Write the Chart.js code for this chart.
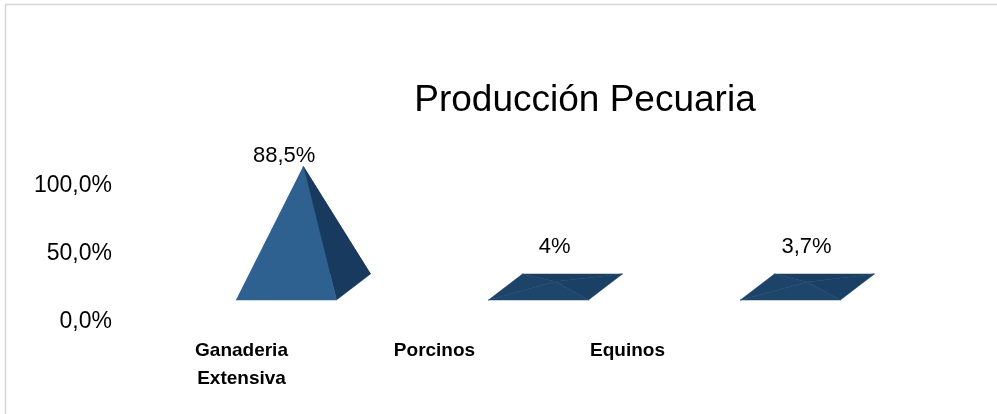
<!DOCTYPE html>
<html>
<head>
<meta charset="utf-8">
<script src="https://cdn.jsdelivr.net/npm/chart.js@4.4.1/dist/chart.umd.min.js"></script>
<style>
  html, body { margin: 0; padding: 0; background: #fff; }
  #wrap { position: relative; width: 997px; height: 414px; }
</style>
</head>
<body>
<div id="wrap"><canvas id="pecuaria-chart" width="997" height="414"></canvas></div>
<script>
// Producción pecuaria (% del total)
const categories = [['Ganaderia', 'Extensiva'], 'Porcinos', 'Equinos'];
const shares = [88.5, 4, 3.7];
const shareLabels = ['88,5%', '4%', '3,7%'];
const yTicks = [0, 50, 100];
const chartTitle = 'Producción Pecuaria';

const fontFamily = '"Liberation Sans", Arial, Helvetica, sans-serif';

// 3D look: the floor is lifted and slanted back to the right
const floorLift = 33;
const depthX = 17;
const depthY = 13;

const steepColors = { front: '#2e6190', right: '#173a5e', left: '#24507a', back: '#13304f' };
const flatColor = '#1c4166';

function hexToRgb(hex) {
  const n = parseInt(hex.slice(1), 16);
  return [(n >> 16) & 255, (n >> 8) & 255, n & 255];
}

function mix(a, b, t) {
  const ca = hexToRgb(a), cb = hexToRgb(b);
  const c = ca.map((v, i) => Math.round(v + (cb[i] - v) * t));
  return 'rgb(' + c.join(',') + ')';
}

function face(ctx, pts, color) {
  ctx.beginPath();
  ctx.moveTo(pts[0][0], pts[0][1]);
  for (let i = 1; i < pts.length; i++) ctx.lineTo(pts[i][0], pts[i][1]);
  ctx.closePath();
  ctx.fillStyle = color;
  ctx.strokeStyle = color;
  ctx.lineWidth = 0.5;
  ctx.fill();
  ctx.stroke();
}

const framePlugin = {
  id: 'frame',
  beforeDraw(chart) {
    const ctx = chart.ctx;
    ctx.save();
    ctx.strokeStyle = '#d6d6d6';
    ctx.lineWidth = 1.5;
    ctx.beginPath();
    ctx.moveTo(5.5, chart.height);
    ctx.lineTo(5.5, 4.5);
    ctx.lineTo(chart.width, 4.5);
    ctx.stroke();
    ctx.restore();
  }
};

const pyramidPlugin = {
  id: 'pyramids',
  afterDatasetsDraw(chart) {
    const ctx = chart.ctx;
    const meta = chart.getDatasetMeta(0);
    ctx.save();
    meta.data.forEach((bar, i) => {
      const half = bar.width / 2;
      const h = bar.base - bar.y;
      const cx = bar.x;
      const floorY = bar.base - floorLift;
      const fl = [cx - depthX - half, floorY + depthY];
      const fr = [cx - depthX + half, floorY + depthY];
      const br = [cx + depthX + half, floorY - depthY];
      const bl = [cx + depthX - half, floorY - depthY];
      const apex = [cx, floorY - h];
      const t = Math.min(1, h / 40);

      face(ctx, [bl, br, apex], mix(flatColor, steepColors.back, t));
      face(ctx, [fl, bl, apex], mix(flatColor, steepColors.left, t));
      face(ctx, [fr, br, apex], mix(flatColor, steepColors.right, t));
      face(ctx, [fl, fr, apex], mix(flatColor, steepColors.front, t));

      // value label above the mark
      ctx.fillStyle = '#000';
      ctx.font = '22px ' + fontFamily;
      ctx.textAlign = 'center';
      ctx.textBaseline = 'middle';
      const ly = Math.min(apex[1] - 11, floorY - depthY - 27);
      ctx.fillText(shareLabels[i], cx - 0.16 * h, ly);
    });

    ctx.font = '37px ' + fontFamily;
    ctx.fillStyle = '#000';
    ctx.textAlign = 'center';
    ctx.textBaseline = 'middle';
    ctx.fillText(chartTitle, 585, 101);
    ctx.restore();
  }
};

const ctx = document.getElementById('pecuaria-chart').getContext('2d');

new Chart(ctx, {
  type: 'bar',
  data: {
    labels: categories,
    datasets: [{
      label: chartTitle,
      data: shares.map((v, i) => ({ x: i, y: v })),
      xAxisID: 'xp',
      yAxisID: 'y',
      barThickness: 100,
      backgroundColor: 'rgba(0,0,0,0)',
      borderWidth: 0
    }]
  },
  options: {
    responsive: false,
    devicePixelRatio: 1,
    animation: false,
    events: [],
    layout: {
      padding: { top: 184, right: 273, bottom: 0, left: 0 }
    },
    plugins: {
      legend: { display: false },
      title: { display: false },
      tooltip: { enabled: false }
    },
    scales: {
      x: {
        type: 'category',
        offset: true,
        grid: { display: false, drawTicks: false },
        border: { display: false },
        ticks: {
          color: '#000',
          padding: 17,
          maxRotation: 0,
          autoSkip: false,
          font: { family: fontFamily, size: 19, weight: 'bold', lineHeight: 1.47 }
        },
        afterFit(scale) { scale.height = 94; }
      },
      // the marks stand deeper in the scene, so they spread wider than the labels
      xp: {
        type: 'linear',
        display: false,
        offset: false,
        min: -0.629,
        max: 1.669
      },
      y: {
        type: 'linear',
        min: 0,
        max: 100,
        grid: { display: false, drawTicks: false },
        border: { display: false },
        afterBuildTicks(scale) { scale.ticks = yTicks.map(v => ({ value: v })); },
        afterFit(scale) { scale.width = 145; },
        ticks: {
          color: '#000',
          padding: 33,
          labelOffset: 2,
          font: { family: fontFamily, size: 23 },
          callback: v => v.toFixed(1).replace('.', ',') + '%'
        }
      }
    }
  },
  plugins: [framePlugin, pyramidPlugin]
});
</script>
</body>
</html>
